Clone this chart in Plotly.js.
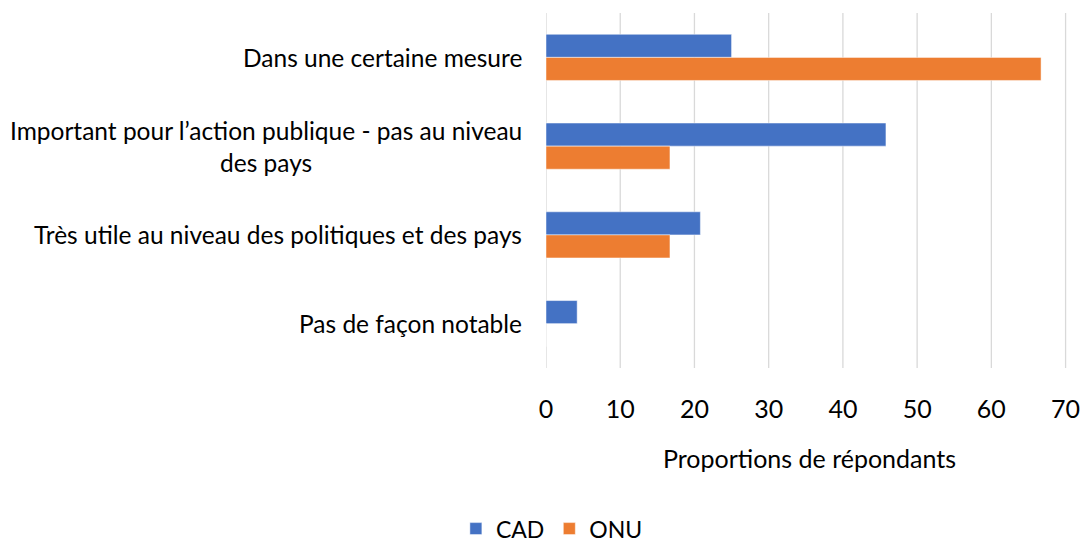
<!DOCTYPE html>
<html>
<head>
<meta charset="utf-8">
<script src="https://cdn.plot.ly/plotly-3.0.1.min.js"></script>
<style>html,body{margin:0;padding:0;background:#fff;}#chart{width:1080px;height:545px;}</style>
</head>
<body>
<div id="chart"></div>
<script>
const categories = [
  "Dans une certaine mesure",
  "Important pour l\u2019action publique - pas au niveau<br>des pays",
  "Très utile au niveau des politiques et des pays",
  "Pas de façon notable"
];
const cadValues = [25.0, 45.8, 20.8, 4.2];
const onuValues = [66.7, 16.7, 16.7, 0];
const seriesNames = ["CAD", "ONU"];
const xTicks = [0, 10, 20, 30, 40, 50, 60, 70];
const xTitle = "Proportions de répondants";

const FONT = 'Lato, "DejaVu Sans Condensed", sans-serif';

const traces = [
  {type: 'bar', orientation: 'h', name: seriesNames[0], y: categories, x: cadValues,
   marker: {color: '#4472C4', line: {color: 'rgba(255,255,255,0.6)', width: 0.8}}, hoverinfo: 'x+name'},
  {type: 'bar', orientation: 'h', name: seriesNames[1], y: categories, x: onuValues,
   marker: {color: '#ED7D31', line: {color: 'rgba(255,255,255,0.6)', width: 0.8}}, hoverinfo: 'x+name'}
];

const annotations = categories.map(c => ({
  xref: 'paper', yref: 'y', x: 0, y: c, xanchor: 'right', yanchor: 'middle',
  xshift: -22, text: c, showarrow: false, align: 'center',
  font: {family: FONT, size: 24.5, color: '#000'}
}));

// vertical gridlines at each tick value, placed through the x axis scale
const gridShapes = xTicks.map(v => ({
  type: 'line', xref: 'x', yref: 'paper', x0: v, x1: v, y0: 0, y1: 1,
  layer: 'below', line: {color: '#d9d9d9', width: 1.3}
}));

const layout = {
  width: 1080, height: 545,
  margin: {l: 546, r: 7, t: 13, b: 177, pad: 0},
  paper_bgcolor: '#fff', plot_bgcolor: '#fff',
  font: {family: FONT, size: 25, color: '#000'},
  barmode: 'group', bargap: 0.48, bargroupgap: 0,
  showlegend: true,
  legend: {orientation: 'h', xref: 'container', yref: 'container', x: 0.511, y: 0.03,
           xanchor: 'center', yanchor: 'middle', font: {family: FONT, size: 23, color: '#000'},
           traceorder: 'normal', itemwidth: 30},
  xaxis: {
    range: [0, 71], tickvals: xTicks, ticktext: xTicks.map(String),
    showgrid: false, zeroline: false, showline: false,
    ticks: 'outside', ticklen: 19, tickcolor: 'rgba(0,0,0,0)',
    ticklabeloverflow: 'allow',
    tickfont: {family: FONT, size: 25, color: '#000'},
    title: {text: xTitle, font: {family: FONT, size: 25, color: '#000'}, standoff: 28},
    fixedrange: true
  },
  yaxis: {
    type: 'category', categoryarray: categories, autorange: 'reversed',
    showticklabels: false, showgrid: false, zeroline: false, showline: false, ticks: '',
    fixedrange: true
  },
  shapes: gridShapes,
  annotations: annotations
};

Plotly.newPlot('chart', traces, layout, {displayModeBar: false, staticPlot: true});
</script>
</body>
</html>
